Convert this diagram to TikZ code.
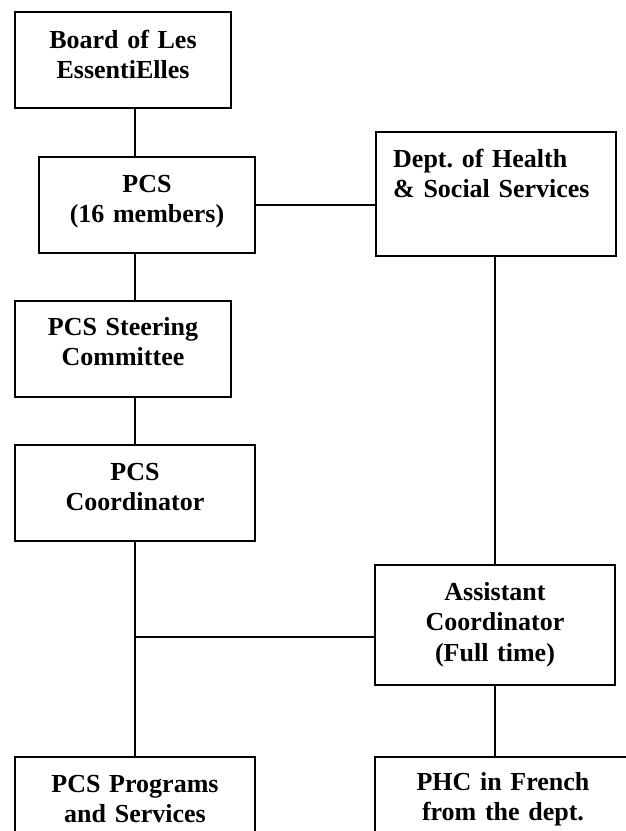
\documentclass[tikz,border=0pt]{standalone}
\usepackage{fontspec}
\setmainfont{Liberation Serif}
\frenchspacing
\begin{document}
\begin{tikzpicture}[x=1pt,y=-1pt,
  box/.style={draw=black, line width=2.4pt, rectangle, inner sep=0pt, outer sep=0pt, anchor=north west},
  lbl/.style={inner sep=0pt, text width=240pt, align=center, anchor=base,
    font=\fontsize{26}{30.5}\selectfont\bfseries\frenchspacing},
  lbll/.style={inner sep=0pt, text width=230pt, align=left, anchor=base west,
    font=\fontsize{26}{30.5}\selectfont\bfseries\frenchspacing},
  link/.style={draw=black, line width=2.4pt}]
\useasboundingbox (0,0) rectangle (626,831);
\clip (0,0) rectangle (626,831);

% boxes
\node[box, minimum width=216pt, minimum height=96pt] (board) at (15,12) {};
\node[box, minimum width=216pt, minimum height=96pt] (pcs)   at (39,157) {};
\node[box, minimum width=240pt, minimum height=124pt] (dept) at (376,132) {};
\node[box, minimum width=216pt, minimum height=96pt] (steer) at (15,301) {};
\node[box, minimum width=240pt, minimum height=96pt] (coord) at (15,445) {};
\node[box, minimum width=240pt, minimum height=120pt] (asst) at (375,565) {};
\node[box, minimum width=240pt, minimum height=110pt] (prog)  at (15,757) {};
\node[box, minimum width=256pt, minimum height=110pt] (phc)   at (375,757) {};

% labels
\node[lbl] (boardt) at ([yshift=-36pt]board.north) {Board of Les\\EssentiElles};
\node[lbl] (pcst)   at ([yshift=-35pt]pcs.north) {PCS\\(16 members)};
\node[lbll] (deptt) at (393,167) {Dept. of Health\\\& Social Services};
\node[lbl] (steert) at ([yshift=-34pt]steer.north) {PCS Steering\\Committee};
\node[lbl] (coordt) at ([yshift=-35pt]coord.north) {PCS\\Coordinator};
\node[lbl] (asstt)  at ([yshift=-35pt]asst.north) {Assistant\\Coordinator\\(Full time)};
\node[lbl] (progt)  at ([yshift=-35pt]prog.north) {PCS Programs\\and Services};
\node[lbl] (phct)   at ([yshift=-33pt]phc.north) {PHC in French\\from the dept.};

% connectors
\coordinate (spine) at (135,0);
\coordinate (jn) at (135,637);
\draw[link] (board.south -| spine) -- (pcs.north -| spine);
\draw[link] (pcs.south -| spine) -- (steer.north -| spine);
\draw[link] (steer.south -| spine) -- (coord.north -| spine);
\draw[link] (coord.south -| spine) -- (prog.north -| spine);
\draw[link] (jn) -- (jn -| asst.west);
\draw[link] (pcs.east) -- (pcs.east -| dept.west);
\draw[link] (asst.north) -- (asst.north |- dept.south);
\draw[link] (asst.south) -- (asst.south |- phc.north);
\end{tikzpicture}
\end{document}
